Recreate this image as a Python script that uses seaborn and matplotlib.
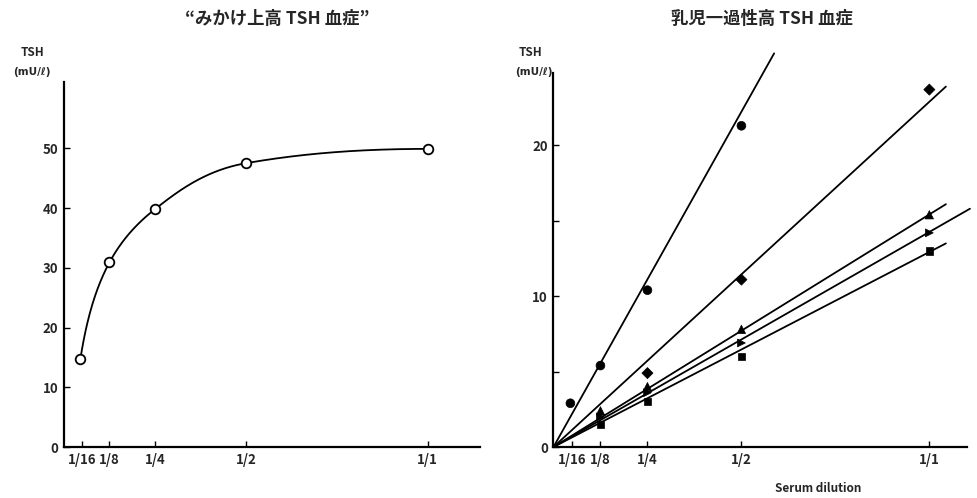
import numpy as np
import pandas as pd
import seaborn as sns
import matplotlib.pyplot as plt

# dilution axis
dil_labels = ['1/16', '1/8', '1/4', '1/2', '1/1']
dil_ticks = [0.05, 0.125, 0.25, 0.5, 1.0]

# left panel: "apparent" high TSH (one case)
left_x = [0.045, 0.125, 0.25, 0.5, 1.0]
left_tsh = [14.7, 30.9, 39.8, 47.5, 49.9]

# right panel: transient hyperthyrotropinemia, five cases
circle_x = [0.045, 0.125, 0.25, 0.5]
circle_tsh = [2.9, 5.4, 10.4, 21.3]
diamond_x = [0.25, 0.5, 1.0]
diamond_tsh = [4.9, 11.1, 23.7]
tri_x = [0.125, 0.25, 0.5, 1.0]
tri_tsh = [2.4, 4.0, 7.8, 15.4]
rtri_x = [0.125, 0.25, 0.5, 1.0]
rtri_tsh = [2.0, 3.6, 6.9, 14.2]
square_x = [0.125, 0.25, 0.5, 1.0]
square_tsh = [1.5, 3.0, 6.0, 13.0]

# end points of the drawn lines (all start at the origin)
fit_end_x = [0.587, 1.044, 1.044, 1.108, 1.044]
fit_end_tsh = [26.1, 23.9, 16.1, 15.8, 13.5]

cases = ['circle', 'diamond', 'tri', 'rtri', 'square']
markers = {'circle': 'o', 'diamond': 'D', 'tri': '^', 'rtri': '>', 'square': 's'}
sizes = {'circle': 40, 'diamond': 32, 'tri': 36, 'rtri': 32, 'square': 28}


def smooth_curve(x, y, xs):
    # monotone cubic through the points in log-dilution space (drawing only)
    x = np.log2(np.asarray(x, float)); y = np.asarray(y, float)
    xs = np.log2(xs)
    h = np.diff(x); d = np.diff(y) / h
    m = np.zeros_like(y)
    for k in range(1, len(x) - 1):
        if d[k - 1] * d[k] > 0:
            w1 = 2 * h[k] + h[k - 1]; w2 = h[k] + 2 * h[k - 1]
            m[k] = (w1 + w2) / (w1 / d[k - 1] + w2 / d[k])
    m[0] = max(((2 * h[0] + h[1]) * d[0] - h[0] * d[1]) / (h[0] + h[1]), 0)
    m[-1] = max(((2 * h[-1] + h[-2]) * d[-1] - h[-1] * d[-2]) / (h[-1] + h[-2]), 0)
    k = np.clip(np.searchsorted(x, xs, side='right') - 1, 0, len(x) - 2)
    t = (xs - x[k]) / h[k]
    return ((2*t**3 - 3*t**2 + 1) * y[k] + (t**3 - 2*t**2 + t) * h[k] * m[k]
            + (-2*t**3 + 3*t**2) * y[k + 1] + (t**3 - t**2) * h[k] * m[k + 1])


sns.set_theme(style="ticks")
plt.rcParams['font.family'] = ['Noto Sans CJK JP', 'DejaVu Sans']
plt.rcParams['xtick.direction'] = 'in'
plt.rcParams['ytick.direction'] = 'in'

fig = plt.figure(figsize=(9.77, 4.98), dpi=100)
ax1 = fig.add_axes([0.0655, 0.1024, 0.4258, 0.733])
ax2 = fig.add_axes([0.5665, 0.1024, 0.4232, 0.751])

# left
xs = np.linspace(left_x[0], left_x[-1], 400)
sns.lineplot(x=xs, y=smooth_curve(left_x, left_tsh, xs), ax=ax1, color='black', lw=1.3,
             sort=False, estimator=None)
sns.scatterplot(x=left_x, y=left_tsh, ax=ax1, marker='o', s=48, color='white',
                edgecolor='black', linewidth=1.3, zorder=3)
ax1.set_xlim(0, 1.144)
ax1.set_ylim(0, 61.1)
ax1.set_yticks([0, 10, 20, 30, 40, 50])

# right
rows = []
for c, xx, yy in zip(cases, [circle_x, diamond_x, tri_x, rtri_x, square_x],
                     [circle_tsh, diamond_tsh, tri_tsh, rtri_tsh, square_tsh]):
    rows += [{'case': c, 'dilution': a, 'TSH': b} for a, b in zip(xx, yy)]
df = pd.DataFrame(rows)

for ex, ey in zip(fit_end_x, fit_end_tsh):
    sns.lineplot(x=[0, ex], y=[0, ey], ax=ax2, color='black', lw=1.3, clip_on=False)
sns.scatterplot(data=df, x='dilution', y='TSH', style='case', markers=markers,
                size='case', sizes=sizes, color='black', edgecolor='black',
                linewidth=0.5, legend=False, ax=ax2, zorder=3, clip_on=False)
ax2.set_xlim(0, 1.10)
ax2.set_ylim(0, 24.8)
ax2.set_yticks([0, 5, 10, 15, 20])
ax2.set_yticklabels(['0', '', '10', '', '20'])

for ax in (ax1, ax2):
    sns.despine(ax=ax)
    for s in ('left', 'bottom'):
        ax.spines[s].set_linewidth(1.6)
        ax.spines[s].set_color('black')
    ax.set_xticks(dil_ticks)
    ax.set_xticklabels(dil_labels)
    ax.tick_params(length=4, width=1, color='black', labelsize=9.5, pad=4)
    for lab in ax.get_xticklabels() + ax.get_yticklabels():
        lab.set_fontweight('bold')
    ax.set_xlabel('')
    ax.set_ylabel('')
    ax.set_facecolor('white')

fig.text(0.033, 0.895, 'TSH', ha='center', va='center', fontsize=8.5, fontweight='bold')
fig.text(0.033, 0.855, '(mU/ℓ)', ha='center', va='center', fontsize=7.5, fontweight='bold',
         family=['DejaVu Sans'])
fig.text(0.543, 0.895, 'TSH', ha='center', va='center', fontsize=8.5, fontweight='bold')
fig.text(0.546, 0.855, '(mU/ℓ)', ha='center', va='center', fontsize=7.5, fontweight='bold',
         family=['DejaVu Sans'])

fig.text(0.284, 0.962, '“みかけ上高 TSH 血症”', ha='center', va='center', fontsize=12.5,
         fontweight='bold')
fig.text(0.78, 0.962, '乳児一過性高 TSH 血症', ha='center', va='center', fontsize=12.5,
         fontweight='bold')
fig.text(0.837, 0.02, 'Serum dilution', ha='center', va='center', fontsize=8.5,
         fontweight='bold')

fig.savefig('out.png', dpi=100, facecolor='white')
